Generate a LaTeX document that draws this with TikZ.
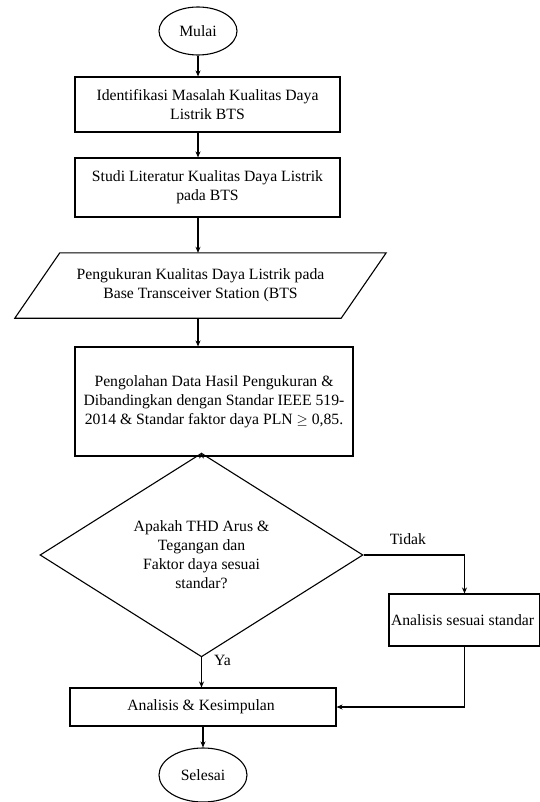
\documentclass[tikz,border=0pt]{standalone}
\usepackage{fontspec}
\setmainfont{Liberation Serif}
\usetikzlibrary{shapes,arrows.meta,positioning}

\begin{document}
\begin{tikzpicture}[
    x=1pt, y=-1pt,
    font=\fontsize{15.7}{19}\selectfont,
    proses/.style={
        rectangle,
        draw=black,
        line width=1.1pt,
        align=center,
        inner sep=2pt
    },
    terminal/.style={
        ellipse,
        draw=black,
        line width=1.1pt,
        inner sep=0pt
    },
    keputusan/.style={
        diamond,
        draw=black,
        line width=1.1pt,
        align=center,
        inner sep=0pt
    },
    garis/.style={
        draw,
        line width=1.1pt,
        -{Stealth[length=6pt,width=5pt]}
    },
    label/.style={
        inner sep=2pt
    }
]
    \useasboundingbox (0,0) rectangle (540,802);

    % --- Nodes ---
    \node [terminal, minimum width=78pt, minimum height=48pt] (mulai) at (198,31) {Mulai};

    \node [proses, minimum width=265pt, minimum height=55pt] (identifikasi) at (207.5,104.5) {
        Identifikasi Masalah Kualitas Daya \\ Listrik BTS
    };

    \node [proses, minimum width=265pt, minimum height=59pt] (studi) at (207.5,187.5) {
        Studi Literatur Kualitas Daya Listrik \\ pada BTS
    };

    \node [align=center, minimum width=326pt, minimum height=65pt, inner sep=2pt] (ukur) at (200.5,285.5) {
        Pengukuran Kualitas Daya Listrik pada \\ Base Transceiver Station (BTS
    };
    \draw [line width=1.1pt]
        ([xshift=22.5pt]ukur.north west) -- ([xshift=22.5pt]ukur.north east) --
        ([xshift=-22.5pt]ukur.south east) -- ([xshift=-22.5pt]ukur.south west) -- cycle;

    \node [proses, minimum width=278pt, minimum height=109pt] (olah) at (214,401.5) {
        Pengolahan Data Hasil Pengukuran \& \\
        Dibandingkan dengan Standar IEEE 519- \\
        2014 \& Standar faktor daya PLN $\geq$ 0,85.
    };

    \node [keputusan, minimum width=323pt, minimum height=157pt] (cek) at (201.5,555) {
        Apakah THD Arus \& \\ Tegangan dan \\ Faktor daya sesuai \\ standar?
    };

    \node [proses, minimum width=149pt, minimum height=52pt] (sesuai) at (464.5,620) {
        Analisis sesuai standar
    };

    \node [proses, minimum width=266pt, minimum height=38pt] (kesimpulan) at (203,707) {
        Analisis \& Kesimpulan
    };

    \node [terminal, minimum width=88pt, minimum height=54pt] (selesai) at (203,775) {Selesai};

    % --- Flow lines ---
    \path [garis] (mulai) -- (mulai |- identifikasi.north);
    \path [garis] (identifikasi.south -| mulai) -- (studi.north -| mulai);
    \path [garis] (studi.south -| mulai) -- (ukur.north -| mulai);
    \path [garis] (ukur.south -| mulai) -- (olah.north -| mulai);
    \path [garis] (olah.south -| cek) -- (cek.north);
    \path [garis] (cek.east) -| node [label, pos=0.22, above, yshift=8pt] {Tidak} (sesuai.north);
    \path [garis] (cek.south) -- node [label, pos=0.4, right, xshift=10pt, yshift=9pt] {Ya} (cek.south |- kesimpulan.north);
    \path [garis] (sesuai.south) |- (kesimpulan.east);
    \path [garis] (kesimpulan) -- (selesai);

\end{tikzpicture}
\end{document}
